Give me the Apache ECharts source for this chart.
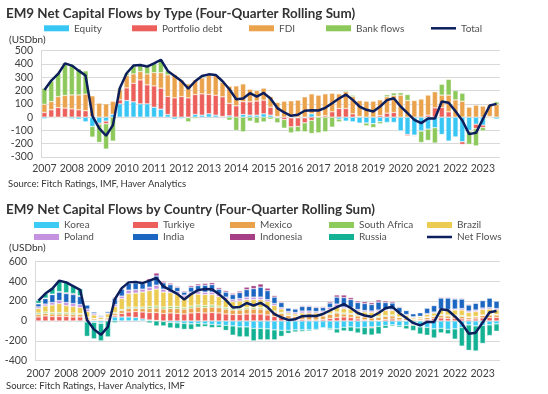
<!DOCTYPE html>
<html><head><meta charset="utf-8">
<script src="https://cdn.jsdelivr.net/npm/echarts@6/dist/echarts.min.js"></script>
<style>html,body{margin:0;padding:0;background:#fff}#c{width:548px;height:394px}</style>
</head><body><div id="c"></div><script>
// ---- tick labels / categories ----
const years = ['2007','2008','2009','2010','2011','2012','2013','2014','2015','2016','2017','2018','2019','2020','2021','2022','2023'];
const quarterNames = ['Q1','Q2','Q3','Q4'];
const nQuarters = 67; // 2007Q1 .. 2023Q3

// ---- Chart 1: by type (USDbn) ----
const equity = [-12,0,-3,-3,-12,-15,-35,-70,-45,-30,22,100,125,115,100,100,75,60,20,-15,-10,-5,20,15,25,15,5,10,0,20,15,15,25,15,-5,0,-5,-5,-5,25,0,0,0,-15,-30,-35,-45,-45,-50,-35,-40,-40,-105,-130,-135,-105,-90,-80,-130,-180,-150,-185,-100,-53,-60,-3,-15];
const portfolioDebt = [35,55,72,68,62,55,48,5,-10,-20,0,30,95,140,180,143,160,158,135,145,155,145,150,160,146,150,148,93,85,96,100,106,103,60,5,-18,-68,-65,-38,-25,5,10,40,65,65,25,5,0,0,12,30,35,0,-10,-5,0,15,70,73,40,0,-20,-5,-33,-18,5,0];
const fdi = [62,62,83,95,105,112,125,155,105,100,97,75,93,70,63,82,100,117,163,175,125,105,110,120,146,150,110,130,150,134,95,79,90,80,105,120,123,128,153,150,160,165,140,110,126,130,120,120,120,118,123,127,166,125,125,136,151,121,93,126,130,120,75,90,83,90,95];
const bankFlows = [120,155,175,245,230,195,175,-80,-135,-190,-180,13,17,63,50,55,70,97,30,5,2,-30,-10,15,5,3,7,-23,-100,-110,-30,-45,-36,-15,-37,-65,-45,-40,-67,-98,-118,-110,-75,-20,10,10,0,-20,-28,-15,15,20,18,45,-5,-86,-85,-115,81,118,70,60,-100,-130,-25,-5,20];
const total = [205,275,325,405,388,350,313,10,-85,-140,-60,218,330,388,393,380,405,432,348,310,272,215,270,310,322,318,270,210,135,140,180,155,182,140,68,35,10,18,48,52,50,70,105,140,170,130,80,55,42,80,128,142,80,30,-20,-45,-10,-10,118,108,45,-25,-128,-118,-15,88,100];

// ---- Chart 2: by country (USDbn) ----
const korea = [-5,0,-5,0,-5,-5,-10,-10,-15,-20,5,40,40,40,35,20,10,5,-5,-15,-20,-25,-30,-25,-30,-35,-40,-45,-50,-60,-60,-75,-75,-80,-90,-95,-95,-90,-90,-90,-85,-70,-75,-80,-65,-60,-70,-65,-60,-55,-45,-40,-50,-45,-35,-60,-65,-80,-75,-85,-80,-65,-40,-50,-45,-40,-30];
const turkiye = [40,50,45,45,45,40,40,15,5,-5,10,15,35,50,60,70,75,80,75,80,75,70,80,85,80,85,80,70,65,65,70,70,70,60,45,35,20,10,15,10,10,15,25,35,40,35,20,10,-10,5,15,20,10,5,-10,5,15,25,30,25,25,20,15,20,30,35,35];
const mexico = [25,25,25,25,25,25,25,20,15,10,15,20,30,35,30,35,40,45,45,45,50,50,50,55,55,55,55,50,45,45,50,50,50,50,45,40,35,35,35,35,35,35,40,45,30,30,30,30,30,30,30,30,25,20,15,15,20,20,25,25,25,25,20,20,25,25,25];
const southAfrica = [15,15,15,15,15,15,10,5,5,5,5,10,10,15,15,15,20,20,20,20,20,15,20,20,20,20,15,15,15,15,15,15,15,15,10,10,5,5,5,5,5,5,10,10,10,10,10,10,10,10,10,10,5,5,5,5,5,5,10,10,10,10,5,5,5,5,5];
const brazil = [45,60,75,90,70,65,60,55,35,20,35,60,110,135,140,150,160,170,150,140,125,105,120,110,110,105,95,85,70,75,80,80,80,70,55,35,20,20,25,30,30,30,40,55,45,45,40,40,45,50,50,45,35,25,15,15,25,30,45,45,50,55,45,50,55,55,45];
const poland = [17,20,25,30,30,30,30,25,15,10,10,20,25,35,35,30,35,40,30,25,25,20,20,25,25,25,25,20,20,25,25,25,25,20,20,15,15,15,20,20,15,15,20,25,15,15,15,15,15,15,10,10,10,10,7,7,9,10,10,10,10,15,15,15,15,15,15];
const india = [30,55,80,85,90,90,80,40,15,10,15,60,70,68,68,55,65,92,63,55,42,30,50,60,70,75,50,50,50,60,75,85,100,90,65,50,35,35,45,45,40,35,45,70,95,80,70,70,65,80,70,65,50,40,30,35,55,65,110,115,100,95,60,68,75,95,75];
const indonesia = [5,5,5,5,8,10,8,5,5,5,5,10,10,10,10,10,20,30,15,15,10,10,15,17,18,20,15,15,13,15,25,30,32,25,15,9,4,7,9,9,9,9,14,21,26,20,16,19,19,21,16,14,9,5,5,5,5,6,8,8,8,8,8,6,6,5,4];
const russia = [30,45,60,110,110,80,70,-145,-165,-175,-160,-17,0,0,0,-5,-20,-50,-45,-55,-55,-60,-55,-37,-26,-32,-25,-50,-93,-100,-100,-125,-115,-110,-100,-60,-30,-20,-16,-12,-9,-4,-14,-41,-35,-45,-51,-74,-72,-76,-28,-12,-14,-35,-52,-72,-79,-91,-45,-45,-103,-188,-256,-252,-181,-107,-74];
const netFlows = [205,275,325,405,388,350,313,10,-85,-140,-60,218,330,388,393,380,405,432,348,310,272,215,270,310,322,318,270,210,135,140,180,155,182,140,68,35,10,18,48,52,50,70,105,140,170,130,80,55,42,80,128,142,80,30,-20,-45,-10,-10,118,108,45,-25,-128,-118,-15,88,100];

// ---- build categories ----
const categories = [];
years.forEach(y => quarterNames.forEach(q => categories.push(y + q)));
categories.length = nQuarters;

const FONT = 'Lato';
const AXIS_TXT = '#404040';
const LEG_TXT = '#505050';
const GRID_C = '#d9d9d9';
const NAVY = '#0c1f5c';

function barSeries(name, data, color, idx) {
  return {
    name, type: 'bar', data, stack: 's' + idx,
    xAxisIndex: idx, yAxisIndex: idx,
    barCategoryGap: '24%',
    itemStyle: { color, borderColor: 'rgba(255,255,255,0.7)', borderWidth: 0.5 },
    emphasis: { disabled: true }
  };
}
function lineSeries(name, data, idx) {
  return {
    name, type: 'line', data, xAxisIndex: idx, yAxisIndex: idx,
    symbol: 'none', z: 5,
    lineStyle: { color: NAVY, width: 2.5 },
    itemStyle: { color: NAVY },
    emphasis: { disabled: true }
  };
}
function legendItem(name, left, yc, isLine) {
  return {
    data: [{ name, icon: 'rect' }],
    left, top: yc - 7, padding: 0,
    itemWidth: 25, itemHeight: isLine ? 2.5 : 6,
    itemStyle: { borderWidth: 0 },
    lineStyle: { width: 0 },
    textStyle: { fontFamily: FONT, fontSize: 10, color: LEG_TXT, lineHeight: 14 },
    selectedMode: false
  };
}
function xAx(idx, margin) {
  return {
    gridIndex: idx, type: 'category', data: categories,
    axisLine: { show: false }, axisTick: { show: false },
    axisLabel: { interval: 3, formatter: v => v.slice(0, 4), color: AXIS_TXT, fontFamily: FONT, fontSize: 10.5, margin }
  };
}
function yAx(idx, min, max, interval) {
  return {
    gridIndex: idx, type: 'value', min, max, interval,
    axisLine: { show: true, lineStyle: { color: GRID_C } },
    axisTick: { show: false },
    splitLine: { lineStyle: { color: GRID_C, width: 1 } },
    axisLabel: { color: AXIS_TXT, fontFamily: FONT, fontSize: 10.5, margin: 8 }
  };
}
function txt(x, y, text, font) {
  return { type: 'text', x, y, silent: true,
    style: { text, font, fill: '#333333', verticalAlign: 'middle', align: 'left' } };
}

const option = {
  animation: false,
  backgroundColor: '#ffffff',
  grid: [
    { left: 41, right: 48, top: 50.7, height: 106.3 },
    { left: 35, right: 48, top: 261.3, height: 99.4 }
  ],
  xAxis: [xAx(0, 6), xAx(1, 7)],
  yAxis: [yAx(0, -300, 500, 100), yAx(1, -400, 600, 200)],
  legend: [
    legendItem('Equity', 44, 28.3),
    legendItem('Portfolio debt', 132, 28.3),
    legendItem('FDI', 249, 28.3),
    legendItem('Bank flows', 326, 28.3),
    legendItem('Total', 431, 28.3, true),
    legendItem('Korea', 34, 225),
    legendItem('Turkiye', 133, 225),
    legendItem('Mexico', 230, 225),
    legendItem('South Africa', 329, 225),
    legendItem('Brazil', 427, 225),
    legendItem('Poland', 34, 237),
    legendItem('India', 133, 237),
    legendItem('Indonesia', 230, 237),
    legendItem('Russia', 329, 237),
    legendItem('Net Flows', 427, 237, true)
  ],
  graphic: [
    txt(6, 14, 'EM9 Net Capital Flows by Type (Four-Quarter Rolling Sum)', 'bold 13.4px Lato'),
    txt(9, 39.5, '(USDbn)', '10px Lato'),
    txt(8, 184, 'Source: Fitch Ratings, IMF, Haver Analytics', '9.5px Lato'),
    txt(6, 210, 'EM9 Net Capital Flows by Country (Four-Quarter Rolling Sum)', 'bold 13.4px Lato'),
    txt(9, 248, '(USDbn)', '10px Lato'),
    txt(6, 386, 'Source: Fitch Ratings, Haver Analytics, IMF', '9.5px Lato')
  ],
  series: [
    barSeries('Equity', equity, '#38c6f4', 0),
    barSeries('Portfolio debt', portfolioDebt, '#ec5f5a', 0),
    barSeries('FDI', fdi, '#eaa24c', 0),
    barSeries('Bank flows', bankFlows, '#8cc85a', 0),
    lineSeries('Total', total, 0),
    barSeries('Korea', korea, '#3ccbf4', 1),
    barSeries('Turkiye', turkiye, '#ec5f5a', 1),
    barSeries('Mexico', mexico, '#e9a24b', 1),
    barSeries('South Africa', southAfrica, '#8dcb5b', 1),
    barSeries('Brazil', brazil, '#ebcb52', 1),
    barSeries('Poland', poland, '#c592e0', 1),
    barSeries('India', india, '#1a66c0', 1),
    barSeries('Indonesia', indonesia, '#a63f86', 1),
    barSeries('Russia', russia, '#14b294', 1),
    lineSeries('Net Flows', netFlows, 1)
  ]
};
const chart = echarts.init(document.getElementById('c'), null, { renderer: 'canvas' });
chart.setOption(option);
</script></body></html>
